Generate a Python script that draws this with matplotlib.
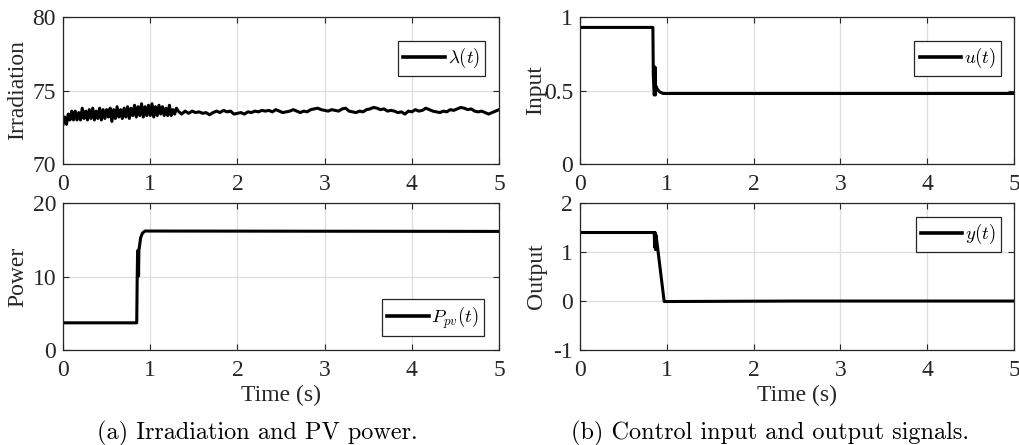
import numpy as np
import matplotlib
matplotlib.use('Agg')
from matplotlib import pyplot as plt

plt.rcParams['font.family'] = ['Liberation Serif', 'DejaVu Serif']
plt.rcParams['mathtext.fontset'] = 'cm'
plt.rcParams['axes.unicode_minus'] = False

# irradiation: every 0.02 s up to 1.3 s, then every 0.04 s up to 5 s
lam_a = [72.7, 73.2, 72.7, 73.4, 73.0, 73.6, 73.0, 73.6, 73.0, 73.5,
         73.0, 73.8, 73.1, 73.6, 73.0, 73.7, 73.1, 73.8, 73.0, 73.6,
         73.1, 73.8, 73.0, 73.7, 73.1, 73.7, 73.2, 73.8, 72.9, 73.7,
         73.1, 73.9, 73.2, 73.7, 73.1, 73.8, 73.2, 73.9, 73.1, 73.8,
         73.3, 74.0, 73.2, 73.9, 73.3, 74.1, 73.2, 73.9, 73.3, 74.0,
         73.3, 74.1, 73.2, 73.9, 73.3, 74.0, 73.4, 73.9, 73.3, 73.8,
         73.3, 74.0, 73.3, 73.7, 73.4, 73.8]
lam_b = [73.6, 73.4, 73.6, 73.45, 73.6, 73.5, 73.55,
         73.45, 73.5, 73.35, 73.5, 73.6, 73.5, 73.65, 73.55, 73.6, 73.4,
         73.45, 73.5, 73.4, 73.55, 73.5, 73.6, 73.55, 73.65, 73.6, 73.65,
         73.55, 73.7, 73.6, 73.5, 73.55, 73.6, 73.7, 73.6, 73.5, 73.6,
         73.55, 73.7, 73.75, 73.8, 73.7, 73.65, 73.6, 73.7, 73.65, 73.6,
         73.75, 73.8, 73.6, 73.55, 73.5, 73.6, 73.55, 73.7, 73.75, 73.85,
         73.8, 73.7, 73.75, 73.6, 73.65, 73.6, 73.5, 73.55, 73.4, 73.6,
         73.55, 73.7, 73.6, 73.65, 73.8, 73.7, 73.6, 73.55, 73.5, 73.6,
         73.55, 73.7, 73.65, 73.75, 73.85, 73.8, 73.7, 73.75, 73.6, 73.55,
         73.6, 73.5, 73.4, 73.5, 73.6, 73.7]
lam_t = np.concatenate([np.arange(len(lam_a)) * 0.02,
                        1.32 + np.arange(len(lam_b)) * 0.04])
lam = lam_a + lam_b

# PV power
p_t = [0, 0.845, 0.85, 0.855, 0.86, 0.862, 0.866, 0.87, 0.875, 0.89, 0.91, 0.94, 0.97, 5]
p_v = [3.7, 3.7, 9.5, 13.5, 10.0, 13.3, 10.2, 13.6, 14.0, 15.3, 15.9, 16.2, 16.2, 16.15]

# control input
u_t = [0, 0.84, 0.845, 0.855, 0.86, 0.865, 0.87, 0.875, 0.89, 0.92, 0.96, 5]
u_v = [0.93, 0.93, 0.6, 0.47, 0.49, 0.66, 0.47, 0.53, 0.51, 0.49, 0.48, 0.48]

# output
y_t = [0, 0.855, 0.86, 0.865, 0.87, 0.875, 0.88, 0.97, 2.5, 5]
y_v = [1.4, 1.4, 1.1, 1.4, 1.05, 1.35, 1.3, -0.01, 0.0, 0.0]

fig = plt.figure(figsize=(10.2, 4.45), dpi=100)
ax_l = fig.add_axes([0.0618, 0.6315, 0.4275, 0.330])
ax_p = fig.add_axes([0.0618, 0.2135, 0.4275, 0.330])
ax_u = fig.add_axes([0.5686, 0.6315, 0.4255, 0.330])
ax_y = fig.add_axes([0.5686, 0.2135, 0.4255, 0.330])

def style(ax, ylim, yticks, ylabel, lx):
    ax.set_xlim(0, 5)
    ax.set_ylim(*ylim)
    ax.set_xticks(range(6))
    ax.set_yticks(yticks)
    ax.set_yticklabels([('%g' % v) for v in yticks])
    ax.grid(True, color='#dedede', lw=0.9)
    ax.set_axisbelow(True)
    for s in ax.spines.values():
        s.set_color('#262626')
        s.set_linewidth(0.9)
    ax.tick_params(direction='in', top=True, right=True, length=4,
                   labelsize=17, color='#262626', labelcolor='#262626')
    ax.tick_params(axis='x', pad=7)
    ax.tick_params(axis='y', pad=5)
    ax.set_ylabel(ylabel, fontsize=17, color='#262626')
    ax.yaxis.set_label_coords(lx, 0.5)

def leg(ax, label, loc, anchor):
    lg = ax.legend([label], loc=loc, bbox_to_anchor=anchor, borderaxespad=0,
                   fontsize=13.5, handlelength=2.2, handletextpad=0.15,
                   borderpad=0.28, fancybox=False, framealpha=1)
    lg.get_frame().set_edgecolor('#262626')
    lg.get_frame().set_linewidth(0.9)
    lg.get_lines()[0].set_linewidth(2.6)

ax_l.plot(lam_t, lam, color='black', lw=2.2)
style(ax_l, (70, 80), [70, 75, 80], 'Irradiation', -0.08)
leg(ax_l, r'$\lambda(t)$', 'upper right', (0.968, 0.837))

ax_p.plot(p_t, p_v, color='black', lw=2.2)
style(ax_p, (0, 20), [0, 10, 20], 'Power', -0.08)
ax_p.set_xlabel('Time (s)', fontsize=17, color='#262626')
ax_p.xaxis.set_label_coords(0.5, -0.235)
leg(ax_p, r'$P_{pv}(t)$', 'lower right', (0.966, 0.095))

ax_u.plot(u_t, u_v, color='black', lw=2.2)
style(ax_u, (0, 1), [0, 0.5, 1], 'Input', -0.078)
leg(ax_u, r'$u(t)$', 'upper right', (0.970, 0.837))

ax_y.plot(y_t, y_v, color='black', lw=2.2)
style(ax_y, (-1, 2), [-1, 0, 1, 2], 'Output', -0.075)
ax_y.set_xlabel('Time (s)', fontsize=17, color='#262626')
ax_y.xaxis.set_label_coords(0.5, -0.235)
leg(ax_y, r'$y(t)$', 'upper right', (0.970, 0.905))

fig.text(0.252, 0.027, '(a) Irradiation and PV power.', family='cmr10',
         fontsize=17.5, ha='center', va='center')
fig.text(0.755, 0.027, '(b) Control input and output signals.', family='cmr10',
         fontsize=17.5, ha='center', va='center')

plt.savefig('out.png', dpi=100)
plt.close()
